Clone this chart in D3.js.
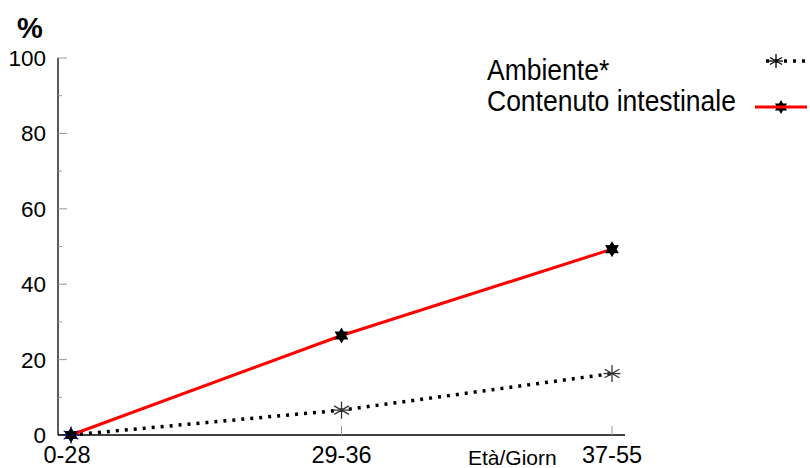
<!DOCTYPE html>
<html><head><meta charset="utf-8">
<script src="https://cdn.jsdelivr.net/npm/d3@7"></script>
<style>body{margin:0;background:#fff}svg{display:block}text{font-family:"Liberation Sans",Arial,sans-serif;fill:#000}</style>
</head><body><svg id="c" width="810" height="468"></svg>
<script>
const categories = ["0-28", "29-36", "37-55"];
const ambiente = [0, 6.6, 16.3];
const contenuto = [0, 26.4, 49.3];
const yTicks = [0, 20, 40, 60, 80, 100];
const seriesNames = ["Ambiente*", "Contenuto intestinale"];

const svg = d3.select("#c");
const x0 = 58, x1 = 625, yTop = 58, yBot = 435;
const x = d3.scalePoint().domain(categories).range([71, 612]);
const y = d3.scaleLinear().domain([0, 100]).range([yBot, yTop]);

// y axis
svg.append("line").attr("x1", x0).attr("x2", x0).attr("y1", yTop).attr("y2", yBot).attr("stroke", "#000").attr("stroke-width", 1.3);
const minor = d3.range(10, 100, 20);
svg.selectAll(".mj").data(yTicks).join("line").attr("x1", x0).attr("x2", x0 + 9)
  .attr("y1", d => y(d)).attr("y2", d => y(d)).attr("stroke", "#999").attr("stroke-width", 1);
svg.selectAll(".mn").data(minor).join("line").attr("x1", x0).attr("x2", x0 + 4)
  .attr("y1", d => y(d)).attr("y2", d => y(d)).attr("stroke", "#999").attr("stroke-width", 1);
svg.selectAll(".yl").data(yTicks).join("text").attr("x", 46).attr("y", d => y(d) + 8)
  .attr("text-anchor", "end").attr("font-size", 22.5).text(d => d);
svg.append("text").attr("x", 17).attr("y", 38).attr("font-size", 29).attr("font-weight", "bold").text("%");

// x axis
svg.append("line").attr("x1", x0).attr("x2", x1).attr("y1", yBot).attr("y2", yBot).attr("stroke", "#000").attr("stroke-width", 1.3);
svg.selectAll(".xt").data(categories.slice(1)).join("line").attr("x1", d => x(d)).attr("x2", d => x(d))
  .attr("y1", yBot).attr("y2", yBot - 9).attr("stroke", "#999");
svg.selectAll(".xl").data(categories).join("text").attr("x", (d, i) => x(d) - (i === 0 ? 4 : 0)).attr("y", 463)
  .attr("text-anchor", "middle").attr("font-size", 23.5).text(d => d);
svg.append("text").attr("x", 468).attr("y", 465).attr("font-size", 21).text("Età/Giorn");

const line = d3.line().x((d, i) => x(categories[i])).y(d => y(d));

function asterisk(g, cx, cy, r, color) {
  for (let a = 0; a < 3; a++) {
    const t = a * Math.PI / 3 + Math.PI / 6;
    g.append("line").attr("x1", cx + r * Math.cos(t)).attr("y1", cy + r * Math.sin(t))
      .attr("x2", cx - r * Math.cos(t)).attr("y2", cy - r * Math.sin(t))
      .attr("stroke", color).attr("stroke-width", 1.3);
  }
  g.append("line").attr("x1", cx - r).attr("x2", cx + r).attr("y1", cy).attr("y2", cy).attr("stroke", color).attr("stroke-width", 1.3);
}
function hexagram(g, cx, cy, r) {
  const pts = [];
  for (let i = 0; i < 12; i++) {
    const rr = i % 2 === 0 ? r : r * 0.58;
    const t = -Math.PI / 2 + i * Math.PI / 6;
    pts.push([cx + rr * Math.cos(t), cy + rr * Math.sin(t)]);
  }
  g.append("polygon").attr("points", pts.map(p => p.join(",")).join(" ")).attr("fill", "#000");
}

// Ambiente dotted
svg.append("path").datum(ambiente).attr("d", line).attr("fill", "none").attr("stroke", "#000")
  .attr("stroke-width", 3.5).attr("stroke-dasharray", "3,6");
// Contenuto red
svg.append("path").datum(contenuto).attr("d", line).attr("fill", "none").attr("stroke", "#f00").attr("stroke-width", 3);

const g = svg.append("g");
ambiente.forEach((v, i) => { if (i > 0) asterisk(g, x(categories[i]), y(v), 8.5, "#333"); });
contenuto.forEach((v, i) => hexagram(g, x(categories[i]), y(v), 8));
asterisk(g, x(categories[0]), y(0), 8.5, "#1a1a8c");
hexagram(g, x(categories[0]), y(0), 6.5);

// legend
svg.append("text").attr("transform", "translate(487,80) scale(1,1.08)").attr("font-size", 26.5).text(seriesNames[0]);
svg.append("text").attr("transform", "translate(487,111) scale(1,1.08)").attr("font-size", 26.5).text(seriesNames[1]);
svg.append("line").attr("x1", 766).attr("x2", 810).attr("y1", 61).attr("y2", 61).attr("stroke", "#000")
  .attr("stroke-width", 3.5).attr("stroke-dasharray", "3,6");
asterisk(g, 776, 61, 7, "#000");
svg.append("line").attr("x1", 755).attr("x2", 807).attr("y1", 107).attr("y2", 107).attr("stroke", "#f00").attr("stroke-width", 3);
hexagram(g, 781, 107, 7);
</script></body></html>
